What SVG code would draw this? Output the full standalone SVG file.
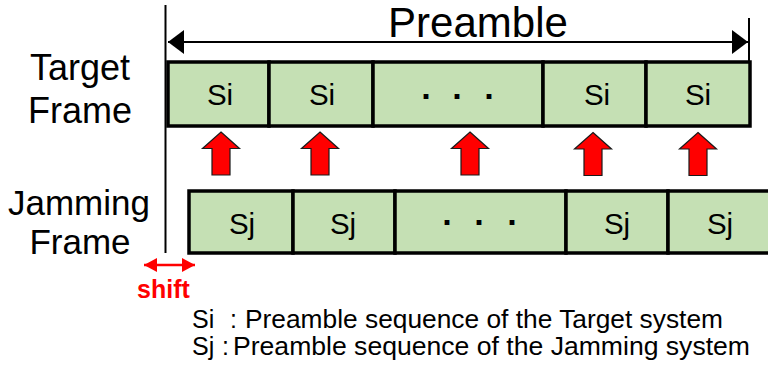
<svg xmlns="http://www.w3.org/2000/svg" width="768" height="371" viewBox="0 0 768 371">
<defs>
<style>
.cell{fill:#C5E0B4;stroke:#000;stroke-width:3.5}
.t{font-family:"Liberation Sans",Arial,sans-serif;fill:#000}
.lbl{font-size:36px;text-anchor:middle}
.s{font-size:29.5px;text-anchor:middle}
.dots{font-size:34px;font-weight:bold;text-anchor:middle}
.leg{font-size:25px}
.up{fill:#FF0000;stroke:#1a1a1a;stroke-width:1.2}
</style>
<marker id="ah" viewBox="0 0 16 24" refX="16" refY="12" markerWidth="16" markerHeight="24" markerUnits="userSpaceOnUse" orient="auto-start-reverse">
<path d="M0,0 L16,12 L0,24 Z" fill="#000"/>
</marker>
<marker id="rh" viewBox="0 0 13 14" refX="13" refY="7" markerWidth="13" markerHeight="14" markerUnits="userSpaceOnUse" orient="auto-start-reverse">
<path d="M0,0 L13,7 L0,14 Z" fill="#FF0000"/>
</marker>
<path id="uparrow" d="M0,-21.5 L18.5,-5 L9,-5 L9,21.5 L-9,21.5 L-9,-5 L-18.5,-5 Z"/>
</defs>
<rect width="768" height="371" fill="#fff"/>

<g id="labels">
<text class="t lbl" x="80" y="80">Target</text>
<text class="t lbl" x="80" y="123">Frame</text>
<text class="t lbl" x="79" y="215" font-size="35" style="font-size:35px">Jamming</text>
<text class="t lbl" x="80" y="254" font-size="35" style="font-size:35px">Frame</text>
<text class="t" x="478" y="37" font-size="42" text-anchor="middle">Preamble</text>
</g>

<g id="target-frame">
<rect class="cell" x="168" y="62" width="101" height="64"/>
<rect class="cell" x="269" y="62" width="104" height="64"/>
<rect class="cell" x="373" y="62" width="170" height="64"/>
<rect class="cell" x="543" y="62" width="103" height="64"/>
<rect class="cell" x="646" y="62" width="104" height="64"/>
<text class="t s" x="220" y="105">Si</text>
<text class="t s" x="322" y="105">Si</text>
<text class="t dots" x="427 458 490" y="108">···</text>
<text class="t s" x="597" y="105">Si</text>
<text class="t s" x="698" y="105">Si</text>
</g>

<g id="jamming-frame">
<rect class="cell" x="189" y="191" width="104" height="62"/>
<rect class="cell" x="293" y="191" width="102" height="62"/>
<rect class="cell" x="395" y="191" width="171" height="62"/>
<rect class="cell" x="566" y="191" width="102" height="62"/>
<rect class="cell" x="668" y="191" width="110" height="62"/>
<text class="t s" x="242" y="234">Sj</text>
<text class="t s" x="343" y="234">Sj</text>
<text class="t dots" x="448 480 513" y="234">···</text>
<text class="t s" x="617" y="234">Sj</text>
<text class="t s" x="720" y="234">Sj</text>
</g>

<g id="connectors">
<line x1="165.5" y1="5" x2="165.5" y2="253" stroke="#000" stroke-width="2"/>
<line x1="749" y1="18" x2="749" y2="62" stroke="#000" stroke-width="2"/>
<line x1="168" y1="42" x2="748" y2="42" stroke="#000" stroke-width="2" marker-start="url(#ah)" marker-end="url(#ah)"/>
<use href="#uparrow" class="up" x="221" y="153.5"/>
<use href="#uparrow" class="up" x="320" y="153.5"/>
<use href="#uparrow" class="up" x="470" y="153.5"/>
<use href="#uparrow" class="up" x="593" y="154"/>
<use href="#uparrow" class="up" x="698" y="154"/>
<line x1="144" y1="265" x2="195" y2="265" stroke="#FF0000" stroke-width="2.5" marker-start="url(#rh)" marker-end="url(#rh)"/>
</g>

<g id="shift-label">
<text class="t" x="163.5" y="298" font-size="25" font-weight="bold" style="fill:#FF0000" text-anchor="middle">shift</text>
</g>

<g id="legend">
<text class="t leg" y="328"><tspan x="192">Si</tspan><tspan x="230">:</tspan><tspan x="245" textLength="478" lengthAdjust="spacingAndGlyphs">Preamble sequence of the Target system</tspan></text>
<text class="t leg" y="355"><tspan x="192">Sj</tspan><tspan x="222">:</tspan><tspan x="233" textLength="517" lengthAdjust="spacingAndGlyphs">Preamble sequence of the Jamming system</tspan></text>
</g>
</svg>
